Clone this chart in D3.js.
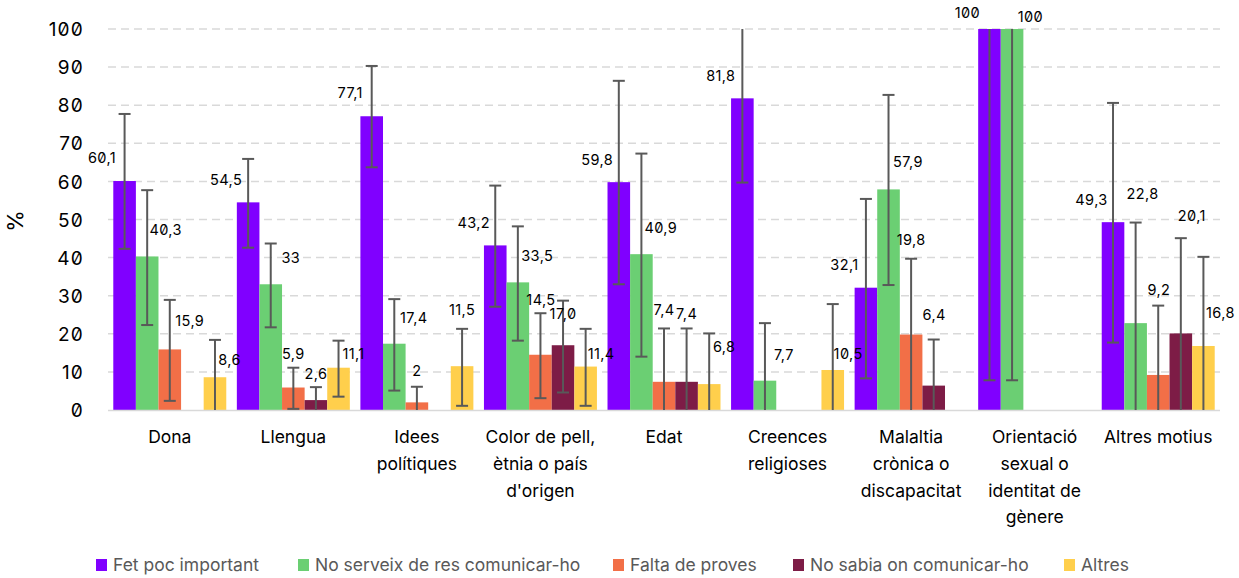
<!DOCTYPE html>
<html>
<head>
<meta charset="utf-8">
<script src="https://cdn.jsdelivr.net/npm/d3@7"></script>
<style>
  body { margin: 0; background: #fff; }
  svg { font-family: Inter, "Noto Sans", sans-serif; }
  .num { font-family: Inter, sans-serif; font-feature-settings: "zero" 1; }
</style>
</head>
<body>
<div id="chart"></div>
<script>
// categories (each label split in its lines)
var categories = [
    ["Dona"],
    ["Llengua"],
    ["Idees", "polítiques"],
    ["Color de pell,", "ètnia o país", "d'origen"],
    ["Edat"],
    ["Creences", "religioses"],
    ["Malaltia", "crònica o", "discapacitat"],
    ["Orientació", "sexual o", "identitat de", "gènere"],
    ["Altres motius"]
];
var seriesNames = ["Fet poc important", "No serveix de res comunicar-ho", "Falta de proves", "No sabia on comunicar-ho", "Altres"];
var seriesColors = ["#8000ff", "#6bcf73", "#f26f47", "#7d1c46", "#ffcf4c"];

var fetPoc    = [60.1, 54.5, 77.1, 43.2, 59.8, 81.8, 32.1, 100, 49.3];
var noServeix = [40.3, 33, 17.4, 33.5, 40.9, 7.7, 57.9, 100, 22.8];
var falta     = [15.9, 5.9, 2, 14.5, 7.4, 0, 19.8, 0, 9.2];
var noSabia   = [0, 2.6, 0, 17.0, 7.4, 0, 6.4, 0, 20.1];
var altres    = [8.6, 11.1, 11.5, 11.4, 6.8, 10.5, 0, 0, 16.8];

// error bar ends (low / high), null = no bar
var fetPocLo    = [42.3, 42.6, 63.7, 27.1, 33.0, 59.7, 8.3, 7.8, 17.7];
var fetPocHi    = [77.7, 65.9, 90.3, 58.9, 86.4, 104, 55.4, 104, 80.6];
var noServeixLo = [22.3, 21.7, 5.1, 18.2, 14.0, -5, 32.8, 7.8, -5];
var noServeixHi = [57.7, 43.7, 29.1, 48.2, 67.3, 22.8, 82.7, 104, 49.2];
var faltaLo     = [2.4, 0.3, -5, 3.1, -5, null, -5, null, -5];
var faltaHi     = [28.9, 11.1, 6.1, 25.4, 21.4, null, 39.7, null, 27.4];
var noSabiaLo   = [null, -5, null, 4.6, -5, null, -5, null, -5];
var noSabiaHi   = [null, 6.0, null, 28.7, 21.4, null, 18.5, null, 45.1];
var altresLo    = [-5, 3.5, 1.1, 1.1, -5, -5, null, null, -5];
var altresHi    = [18.4, 18.2, 21.3, 21.3, 20.1, 27.8, null, null, 40.2];

var yTicks = [0, 10, 20, 30, 40, 50, 60, 70, 80, 90, 100];

// hand placed data labels: offset from bar top centre, px
var labelNudge = [
    [[-22.5,-23],[-22,-22],[-21.5,-23],[-21.5,-22.7],[-21.5,-22],[-21.5,-22.3],[-21.5,-22.7],[-22,-15.7],[-21.5,-22.2]],
    [[18.5,-26.5],[20,-26.6],[19.5,-26],[19.4,-26.4],[19.4,-26.5],[19,-25.7],[19.4,-27],[18.4,-11.7],[7,-129]],
    [[20,-28],[0,-34],[0,-31.7],[0.5,-55],[0,-72],null,[0,-94.6],null,[0.7,-85]],
    [null,[0,-26],null,[0,-31],[0,-67.5],null,[0.5,-70.6],null,[11,-117]],
    [[14.5,-17],[15,-14],[0,-56],[15.5,-12.6],[15,-37.4],[15.4,-16],null,null,[17,-32.7]]
];
var labelText = {"3-3": "17,0"};

var values = [fetPoc, noServeix, falta, noSabia, altres];
var lows = [fetPocLo, noServeixLo, faltaLo, noSabiaLo, altresLo];
var highs = [fetPocHi, noServeixHi, faltaHi, noSabiaHi, altresHi];

var width = 1239, height = 578;
var plot = {left: 108, right: 1220, top: 29, bottom: 410};

var svg = d3.select("#chart").append("svg")
    .attr("width", width)
    .attr("height", height);

var x0 = d3.scaleBand()
    .domain(d3.range(categories.length))
    .range([plot.left, plot.right]);

var x1 = d3.scaleBand()
    .domain(d3.range(seriesNames.length))
    .range([0, x0.bandwidth()])
    .paddingOuter(0.234);

var y = d3.scaleLinear()
    .domain([0, 100])
    .range([plot.bottom, plot.top]);

// grid lines
svg.append("g").selectAll("line")
    .data(yTicks.filter(function(t) { return t > 0; }))
    .enter().append("line")
    .attr("x1", plot.left).attr("x2", plot.right)
    .attr("y1", function(d) { return y(d); })
    .attr("y2", function(d) { return y(d); })
    .attr("stroke", "#d9d9d9")
    .attr("stroke-width", 1.5)
    .style("stroke-dasharray", "8,5");

// y tick labels
var yAxis = d3.axisLeft(y).tickValues(yTicks).tickSize(0).tickPadding(0);
var gy = svg.append("g")
    .attr("transform", "translate(84,0)")
    .call(yAxis);
gy.select(".domain").remove();
gy.selectAll("text")
    .attr("class", "num")
    .attr("dy", "0.35em")
    .style("font-size", "19px")
    .style("letter-spacing", "1.2px")
    .attr("fill", "#000");

// y title
svg.append("text")
    .attr("transform", "translate(15,221) rotate(-90)")
    .attr("text-anchor", "middle")
    .attr("dy", "0.35em")
    .style("font-size", "22px")
    .attr("fill", "#000")
    .text("%");

// bars
var groups = svg.append("g").selectAll("g")
    .data(categories)
    .enter().append("g")
    .attr("transform", function(d, i) { return "translate(" + x0(i) + ",0)"; });

groups.selectAll("rect")
    .data(function(d, i) {
        return values.map(function(s, j) { return {cat: i, ser: j, v: s[i]}; });
    })
    .enter().append("rect")
    .filter(function(d) { return d.v > 0; })
    .attr("x", function(d) { return x1(d.ser); })
    .attr("width", x1.bandwidth())
    .attr("y", function(d) { return y(d.v); })
    .attr("height", function(d) { return y(0) - y(d.v); })
    .attr("fill", function(d) { return seriesColors[d.ser]; });

// x axis line
svg.append("line")
    .attr("x1", plot.left).attr("x2", plot.right)
    .attr("y1", plot.bottom + 0.5).attr("y2", plot.bottom + 0.5)
    .attr("stroke", "#d9d9d9")
    .attr("stroke-width", 1.5);

// error bars
var errData = [];
categories.forEach(function(c, i) {
    values.forEach(function(s, j) {
        if (lows[j][i] != null) {
            errData.push({cx: x0(i) + x1(j) + x1.bandwidth() / 2, lo: lows[j][i], hi: highs[j][i]});
        }
    });
});

var errG = svg.append("g").attr("stroke", "#595959").attr("stroke-width", 2);
errData.forEach(function(e) {
    var yLo = y(Math.max(e.lo, 0)), yHi = y(Math.min(e.hi, 100));
    errG.append("line")
        .attr("x1", e.cx).attr("x2", e.cx)
        .attr("y1", yLo).attr("y2", yHi);
    if (e.lo >= 0) {
        errG.append("line")
            .attr("x1", e.cx - 6).attr("x2", e.cx + 6)
            .attr("y1", yLo).attr("y2", yLo);
    }
    if (e.hi <= 100) {
        errG.append("line")
            .attr("x1", e.cx - 6).attr("x2", e.cx + 6)
            .attr("y1", yHi).attr("y2", yHi);
    }
});

// data labels
var lblG = svg.append("g");
categories.forEach(function(c, i) {
    values.forEach(function(s, j) {
        var n = labelNudge[j][i];
        if (!(s[i] > 0) || !n) return;
        var txt = labelText[i + "-" + j] || String(s[i]).replace(".", ",");
        lblG.append("text")
            .attr("class", "num")
            .attr("x", x0(i) + x1(j) + x1.bandwidth() / 2 + n[0])
            .attr("y", y(s[i]) + n[1])
            .attr("dy", "0.35em")
            .attr("text-anchor", "middle")
            .style("font-size", "14.5px")
            .style("letter-spacing", "0.4px")
            .attr("fill", "#000")
            .text(txt);
    });
});

// category labels
var catG = svg.append("g");
categories.forEach(function(lines, i) {
    var t = catG.append("text")
        .attr("text-anchor", "middle")
        .style("font-size", "17.5px")
        .attr("fill", "#000");
    lines.forEach(function(l, k) {
        t.append("tspan")
            .attr("x", x0(i) + x0.bandwidth() / 2)
            .attr("y", 437 + k * 26.7)
            .attr("dy", "0.35em")
            .text(l);
    });
});

// legend
var legendX = [96, 298, 613, 793, 1064];
var leg = svg.append("g").selectAll("g")
    .data(seriesNames)
    .enter().append("g")
    .attr("transform", function(d, i) { return "translate(" + legendX[i] + ",559)"; });
leg.append("rect")
    .attr("width", 11).attr("height", 12)
    .attr("fill", function(d, i) { return seriesColors[i]; });
leg.append("text")
    .attr("x", 17)
    .attr("y", 6)
    .attr("dy", "0.35em")
    .style("font-size", "17.5px")
    .attr("fill", "#595959")
    .text(function(d) { return d; });
</script>
</body>
</html>
